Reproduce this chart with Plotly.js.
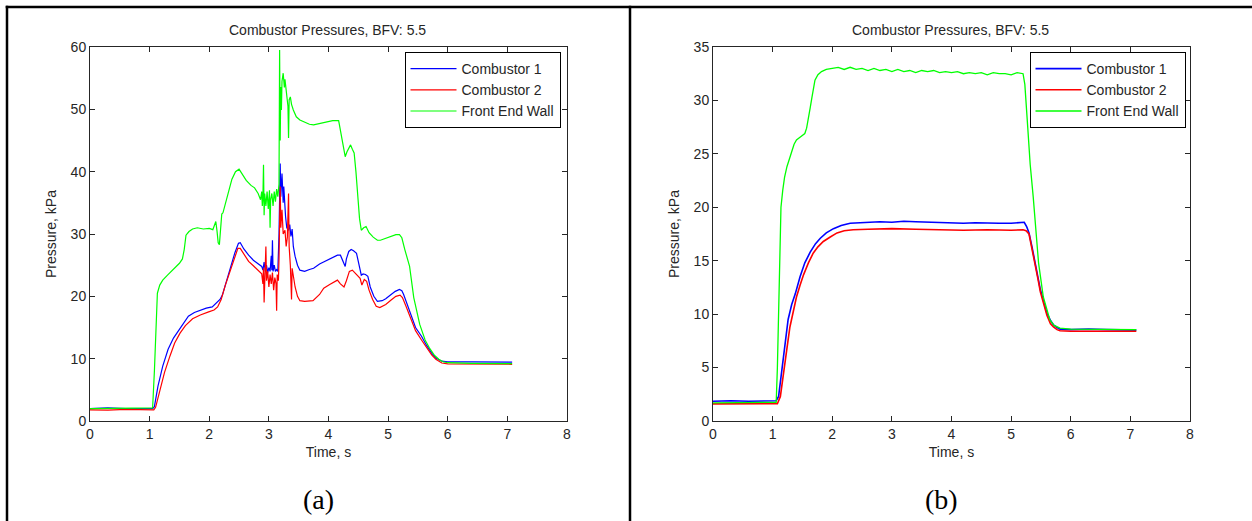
<!DOCTYPE html>
<html>
<head>
<meta charset="utf-8">
<script src="https://cdn.plot.ly/plotly-3.0.1.min.js"></script>
<style>html,body{margin:0;padding:0;background:#fff;}#chart{width:1252px;height:521px;}</style>
</head>
<body>
<div id="chart"></div>
<script>
// ---------- data (time s, pressure kPa) ----------
const seriesNames = ["Combustor 1", "Combustor 2", "Front End Wall"];
const seriesColors = ["#0000ff", "#ff0000", "#00ff00"];
const chartTitle = "Combustor Pressures, BFV: 5.5";
const panelLabels = ["(a)", "(b)"];
const xTickVals = [0,1,2,3,4,5,6,7,8];
const yTickValsA = [0,10,20,30,40,50,60];
const yTickValsB = [0,5,10,15,20,25,30,35];

// Panel (a)
const A_C1 = [[0,2.0],[0.3,2.1],[0.6,2.0],[0.9,2.05],[1.05,2.0],[1.08,2.3],[1.14,5.6],[1.22,8.8],[1.31,11.5],[1.4,13.3],[1.51,14.9],[1.58,16.0],[1.65,16.8],[1.75,17.4],[1.85,17.8],[1.95,18.1],[2.05,18.3],[2.12,18.9],[2.18,19.5],[2.22,20.2],[2.29,22.5],[2.36,24.8],[2.43,27.0],[2.49,28.5],[2.52,28.6],[2.58,27.6],[2.66,26.6],[2.74,25.8],[2.82,25.2],[2.88,24.8],[2.9,24.2],[2.92,25.5],[2.94,24.0],[2.96,25.0],[2.98,23.8],[3.0,24.6],[3.02,24.0],[3.04,26.5],[3.05,24.2],[3.06,29.0],[3.07,24.0],[3.09,25.0],[3.11,24.0],[3.13,24.3],[3.15,24.0],[3.17,30.0],[3.19,41.3],[3.2,36.0],[3.22,39.7],[3.24,35.0],[3.25,37.6],[3.27,33.0],[3.28,32.8],[3.3,31.0],[3.33,30.6],[3.35,31.5],[3.37,29.6],[3.39,30.8],[3.41,28.0],[3.44,26.4],[3.48,25.0],[3.52,24.2],[3.6,24.0],[3.68,24.3],[3.75,24.5],[3.85,25.2],[3.97,25.8],[4.07,26.3],[4.15,26.6],[4.2,26.6],[4.25,25.3],[4.28,24.8],[4.3,26.0],[4.34,27.2],[4.38,27.5],[4.42,27.3],[4.47,26.9],[4.51,25.0],[4.55,23.4],[4.58,23.6],[4.62,23.5],[4.66,23.2],[4.7,21.5],[4.76,20.0],[4.82,19.2],[4.9,19.3],[4.96,19.6],[5.05,20.3],[5.12,20.8],[5.19,21.1],[5.23,20.9],[5.26,20.3],[5.33,18.5],[5.4,16.6],[5.46,15.0],[5.56,13.6],[5.64,12.2],[5.73,10.9],[5.8,10.1],[5.9,9.6],[6.0,9.5],[6.4,9.5],[6.8,9.45],[7.08,9.45]];
const A_C2 = [[0,1.8],[0.3,1.75],[0.6,1.85],[0.9,1.8],[1.07,1.8],[1.1,2.2],[1.17,4.8],[1.25,7.8],[1.34,10.4],[1.42,12.5],[1.51,14.1],[1.6,15.3],[1.72,16.4],[1.85,17.0],[1.99,17.5],[2.08,17.8],[2.14,18.3],[2.2,19.5],[2.27,21.8],[2.36,24.3],[2.43,26.5],[2.48,27.7],[2.52,27.7],[2.58,26.8],[2.66,25.6],[2.74,24.9],[2.82,24.2],[2.88,23.6],[2.9,22.0],[2.91,24.5],[2.92,19.0],[2.93,23.0],[2.95,28.0],[2.96,22.5],[2.98,24.0],[3.0,21.5],[3.02,23.5],[3.04,22.0],[3.06,23.8],[3.08,21.0],[3.1,23.0],[3.12,22.0],[3.13,17.7],[3.14,23.5],[3.16,22.5],[3.17,26.0],[3.19,37.6],[3.2,31.0],[3.22,33.9],[3.24,30.0],[3.27,30.6],[3.29,28.0],[3.31,29.5],[3.33,36.5],[3.34,28.0],[3.36,25.0],[3.38,19.5],[3.39,24.5],[3.41,23.0],[3.44,21.5],[3.48,20.0],[3.52,19.3],[3.6,19.2],[3.74,19.3],[3.85,20.3],[3.92,21.3],[4.02,21.9],[4.1,22.3],[4.15,22.6],[4.2,22.0],[4.26,21.5],[4.3,22.5],[4.35,24.0],[4.4,24.2],[4.45,23.7],[4.5,23.3],[4.53,22.9],[4.56,21.8],[4.6,22.7],[4.64,22.4],[4.68,21.0],[4.74,19.5],[4.8,18.4],[4.86,18.2],[4.96,18.7],[5.05,19.4],[5.13,20.0],[5.2,20.2],[5.24,19.8],[5.3,18.4],[5.38,16.4],[5.46,14.5],[5.56,13.0],[5.64,11.8],[5.73,10.6],[5.8,9.9],[5.9,9.3],[6.0,9.15],[6.4,9.1],[6.8,9.15],[7.08,9.1]];
const A_FEW = [[0,2.0],[0.5,2.0],[1.0,2.0],[1.05,2.1],[1.08,8.0],[1.11,16.0],[1.13,20.5],[1.17,21.8],[1.22,22.6],[1.3,23.4],[1.4,24.4],[1.5,25.3],[1.55,26.0],[1.58,27.5],[1.61,29.8],[1.66,30.4],[1.72,30.8],[1.8,31.0],[1.9,30.8],[2.0,30.9],[2.06,30.7],[2.09,31.6],[2.11,32.0],[2.13,30.5],[2.15,28.6],[2.17,28.3],[2.19,31.0],[2.21,33.2],[2.23,33.4],[2.28,35.0],[2.33,37.0],[2.38,38.8],[2.44,40.0],[2.5,40.4],[2.55,39.7],[2.62,38.6],[2.7,37.8],[2.76,37.4],[2.82,36.5],[2.86,35.5],[2.88,36.8],[2.89,34.5],[2.9,35.8],[2.91,41.1],[2.92,33.0],[2.93,36.5],[2.95,34.5],[2.97,36.8],[2.99,34.0],[3.01,37.0],[3.02,31.0],[3.03,35.5],[3.05,36.5],[3.07,34.5],[3.09,36.8],[3.11,35.2],[3.13,37.2],[3.15,36.0],[3.17,38.0],[3.18,59.5],[3.19,45.0],[3.2,53.6],[3.21,49.9],[3.22,54.5],[3.24,55.8],[3.26,53.5],[3.27,54.8],[3.29,52.5],[3.3,52.8],[3.32,50.5],[3.33,45.4],[3.34,51.5],[3.36,52.0],[3.38,50.8],[3.41,49.9],[3.46,48.8],[3.52,48.3],[3.6,48.0],[3.68,47.6],[3.75,47.5],[3.85,47.7],[3.97,48.0],[4.07,48.2],[4.17,48.2],[4.2,46.5],[4.24,44.0],[4.28,42.4],[4.31,43.2],[4.34,43.8],[4.37,44.3],[4.4,43.6],[4.43,43.0],[4.46,40.0],[4.49,36.0],[4.52,32.5],[4.55,30.6],[4.59,31.0],[4.63,31.2],[4.68,30.2],[4.75,29.5],[4.82,29.0],[4.87,29.0],[4.95,29.3],[5.05,29.6],[5.13,29.9],[5.19,29.9],[5.23,29.4],[5.28,27.5],[5.36,24.8],[5.43,19.8],[5.53,15.5],[5.62,13.0],[5.7,11.6],[5.78,10.5],[5.85,9.9],[5.92,9.5],[6.0,9.35],[6.4,9.25],[6.8,9.2],[7.08,9.2]];

// Panel (b)
const B_C1 = [[0,1.85],[0.3,1.9],[0.6,1.85],[0.9,1.9],[1.06,1.9],[1.1,2.3],[1.14,4.2],[1.18,6.2],[1.22,8.0],[1.26,9.5],[1.32,10.9],[1.38,11.9],[1.46,13.5],[1.54,14.8],[1.63,15.8],[1.72,16.6],[1.8,17.1],[1.9,17.6],[2.02,18.0],[2.15,18.3],[2.3,18.5],[2.45,18.55],[2.6,18.6],[2.8,18.65],[3.0,18.6],[3.2,18.7],[3.4,18.65],[3.6,18.6],[3.8,18.55],[4.0,18.55],[4.2,18.5],[4.4,18.55],[4.6,18.5],[4.8,18.5],[5.0,18.5],[5.15,18.55],[5.22,18.6],[5.26,18.2],[5.3,17.6],[5.35,16.3],[5.4,14.8],[5.45,13.5],[5.49,12.3],[5.55,11.1],[5.6,10.1],[5.66,9.4],[5.71,9.0],[5.77,8.75],[5.82,8.6],[6.0,8.55],[6.3,8.6],[6.6,8.55],[6.9,8.55],[7.1,8.5]];
const B_C2 = [[0,1.6],[0.3,1.6],[0.6,1.58],[0.9,1.6],[1.08,1.62],[1.13,2.3],[1.17,3.8],[1.21,5.4],[1.25,7.2],[1.29,8.8],[1.35,10.4],[1.4,11.6],[1.46,12.7],[1.52,13.7],[1.6,14.8],[1.68,15.7],[1.76,16.3],[1.85,16.8],[1.96,17.2],[2.08,17.6],[2.2,17.8],[2.35,17.9],[2.6,17.95],[3.0,18.0],[3.4,17.95],[3.8,17.9],[4.2,17.85],[4.6,17.9],[5.0,17.85],[5.2,17.9],[5.25,17.8],[5.3,17.5],[5.35,16.2],[5.4,14.7],[5.45,13.3],[5.49,12.1],[5.55,10.9],[5.6,9.9],[5.66,9.1],[5.71,8.8],[5.77,8.55],[5.82,8.45],[6.0,8.4],[6.5,8.4],[7.1,8.4]];
const B_FEW = [[0,1.7],[0.5,1.7],[1.0,1.72],[1.06,1.75],[1.08,5.0],[1.1,10.4],[1.12,17.9],[1.14,20.0],[1.17,21.6],[1.2,22.8],[1.24,23.8],[1.28,24.6],[1.32,25.2],[1.36,25.9],[1.4,26.3],[1.47,26.6],[1.54,26.9],[1.57,27.4],[1.6,28.2],[1.63,29.3],[1.66,30.3],[1.69,31.3],[1.71,31.9],[1.76,32.4],[1.82,32.7],[1.9,32.9],[2.02,33.0],[2.1,33.1],[2.2,32.9],[2.3,33.1],[2.4,32.9],[2.5,33.0],[2.6,32.8],[2.7,33.0],[2.8,32.8],[2.9,32.9],[3.0,32.7],[3.1,32.9],[3.2,32.7],[3.3,32.8],[3.4,32.6],[3.5,32.8],[3.6,32.7],[3.7,32.8],[3.8,32.6],[3.9,32.7],[4.0,32.6],[4.1,32.7],[4.2,32.5],[4.3,32.6],[4.4,32.5],[4.5,32.6],[4.6,32.4],[4.7,32.6],[4.8,32.5],[4.9,32.5],[5.0,32.4],[5.1,32.6],[5.2,32.5],[5.23,31.5],[5.27,28.2],[5.32,24.0],[5.37,21.0],[5.42,17.5],[5.46,14.8],[5.54,11.6],[5.6,10.3],[5.65,9.45],[5.72,8.95],[5.82,8.7],[6.0,8.6],[6.5,8.55],[7.1,8.55]];

// ---------- build ----------
const W = 1252, H = 521;
const px = v => v / W;
const py = v => 1 - v / H;
const FONT = "Liberation Sans, Arial, sans-serif";
const TXT = "#262626";

function mk(pairs, i, xa, ya, leg, w) {
  return {
    x: pairs.map(p => p[0]), y: pairs.map(p => p[1]),
    type: "scatter", mode: "lines", name: seriesNames[i],
    line: {color: seriesColors[i], width: w},
    xaxis: xa, yaxis: ya, legend: leg
  };
}
const traces = [
  mk(A_C1, 0, "x", "y", "legend", 1.2),
  mk(A_C2, 1, "x", "y", "legend", 1.2),
  mk(A_FEW, 2, "x", "y", "legend", 1.2),
  mk(B_C1, 0, "x2", "y2", "legend2", 1.6),
  mk(B_C2, 1, "x2", "y2", "legend2", 1.6),
  mk(B_FEW, 2, "x2", "y2", "legend2", 1.3)
];

function xa(dom, anchor) {
  return {domain: dom, anchor: anchor, range: [0, 8], tickvals: xTickVals,
    ticks: "inside", ticklen: 5, tickcolor: TXT, showline: true, linecolor: TXT, linewidth: 1,
    mirror: "ticks", showgrid: false, zeroline: false,
    tickfont: {family: FONT, size: 14, color: TXT},
    title: {text: "Time, s", font: {family: FONT, size: 14, color: TXT}, standoff: 6}};
}
function ya(dom, anchor, rng, vals) {
  return {domain: dom, anchor: anchor, range: rng, tickvals: vals,
    ticks: "inside", ticklen: 5, tickcolor: TXT, showline: true, linecolor: TXT, linewidth: 1,
    mirror: "ticks", showgrid: false, zeroline: false,
    tickfont: {family: FONT, size: 14, color: TXT},
    title: {text: "Pressure, kPa", font: {family: FONT, size: 14, color: TXT}, standoff: 10}};
}
const yDom = [py(421), py(47)];
function legendAt(xr) {
  return {x: px(xr), xanchor: "right", y: py(52), yanchor: "top",
    bgcolor: "#ffffff", bordercolor: "#000000", borderwidth: 1, itemwidth: 46,
    font: {family: FONT, size: 14, color: TXT}, tracegroupgap: 0};
}
const bw = 2.5;
const layout = {
  width: W, height: H, margin: {l: 0, r: 0, t: 0, b: 0},
  paper_bgcolor: "#ffffff", plot_bgcolor: "#ffffff", showlegend: true,
  xaxis: xa([px(90), px(567)], "y"),
  yaxis: ya(yDom, "x", [0, 60], yTickValsA),
  xaxis2: xa([px(713), px(1190)], "y2"),
  yaxis2: ya(yDom, "x2", [0, 35], yTickValsB),
  legend: legendAt(560.5),
  legend2: legendAt(1185.5),
  annotations: [
    {text: chartTitle, xref: "paper", yref: "paper", x: px(327.5), y: py(30), xanchor: "center", yanchor: "middle", showarrow: false, font: {family: FONT, size: 14, color: TXT}},
    {text: chartTitle, xref: "paper", yref: "paper", x: px(950.5), y: py(30), xanchor: "center", yanchor: "middle", showarrow: false, font: {family: FONT, size: 14, color: TXT}},
    {text: panelLabels[0], xref: "paper", yref: "paper", x: px(318.5), y: py(499), xanchor: "center", yanchor: "middle", showarrow: false, font: {family: "Liberation Serif, Times New Roman, serif", size: 28, color: "#000"}},
    {text: panelLabels[1], xref: "paper", yref: "paper", x: px(941), y: py(499), xanchor: "center", yanchor: "middle", showarrow: false, font: {family: "Liberation Serif, Times New Roman, serif", size: 28, color: "#000"}}
  ],
  shapes: [
    {type: "line", xref: "paper", yref: "paper", x0: px(5.7), x1: 1, y0: py(7), y1: py(7), line: {color: "#000", width: bw}},
    {type: "line", xref: "paper", yref: "paper", x0: px(7), x1: px(7), y0: py(5.7), y1: 0, line: {color: "#000", width: bw}},
    {type: "line", xref: "paper", yref: "paper", x0: px(630), x1: px(630), y0: py(5.7), y1: 0, line: {color: "#000", width: bw}}
  ]
};
Plotly.newPlot("chart", traces, layout, {displayModeBar: false, staticPlot: true});
</script>
</body>
</html>
